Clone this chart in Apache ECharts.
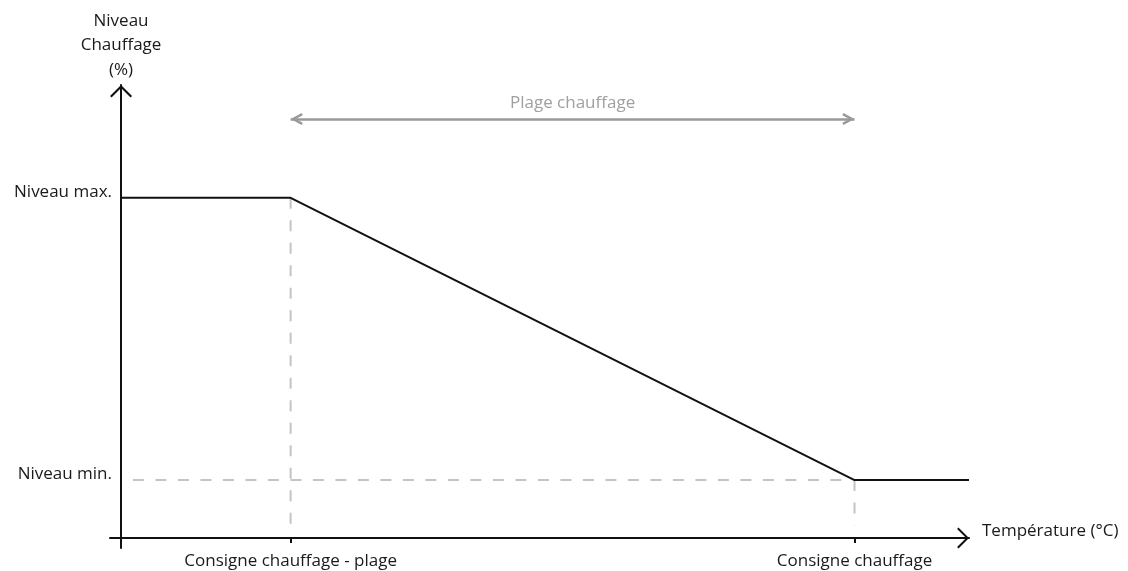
<!DOCTYPE html>
<html><head><meta charset="utf-8">
<script src="https://cdn.jsdelivr.net/npm/echarts@6/dist/echarts.min.js"></script>
<style>html,body{margin:0;padding:0;background:#fff}#c{width:1128px;height:571px}</style>
</head><body><div id="c"></div>
<script>
// categories / tick positions on the temperature axis
const xTicks = [20, 86.5];
const xTickLabels = ['Consigne chauffage - plage', 'Consigne chauffage'];
// heating levels
const yLevels = [12.8, 75.1];
const yLevelLabels = ['Niveau min.', 'Niveau max.'];
// heating curve
const curveX = [0, 20, 86.5, 100];
const curveY = [75.1, 75.1, 12.8, 12.8];
// heating range arrow
const rangeX = [20, 86.5];
const rangeY = 92.5;
const rangeLabel = 'Plage chauffage';
// dashed guide extents
const dashBottom = 2.8;
const dashLeft = 1.4;

const FONT = 'Open Sans';
const axisArrow = 'path://M0,0 L11,11 L9.5,12.5 L0,3 L-9.5,12.5 L-11,11 Z M-0.01,-12.5 L0.01,-12.5 L0,-12.49 Z';
const rangeArrow = 'path://M0,0 L6,11 L3.8,12.2 L0,5.2 L-3.8,12.2 L-6,11 Z M-0.01,-12.2 L0.01,-12.2 L0,-12.19 Z';

const curve = curveX.map((x, i) => [x, curveY[i]]);
const dashStyle = {color: '#c4c4c4', width: 2, type: [11, 11.5]};

const chart = echarts.init(document.getElementById('c'), null, {renderer: 'canvas'});
chart.setOption({
  animation: false,
  backgroundColor: '#ffffff',
  textStyle: {fontFamily: FONT},
  grid: {left: 110, right: 159, top: 85, bottom: 23, containLabel: false, outerBoundsMode: 'none'},
  xAxis: {
    type: 'value', min: -1.3, max: 100,
    splitLine: {show: false},
    axisLine: {onZero: true, lineStyle: {color: '#111', width: 2},
      symbol: ['none', axisArrow], symbolSize: [21, 26]},
    axisTick: {show: true, customValues: xTicks, length: 5, lineStyle: {color: '#111', width: 2}},
    axisLabel: {customValues: xTicks, formatter: v => xTickLabels[xTicks.indexOf(v)],
      fontSize: 17, margin: 5, color: '#1a1a1a', fontFamily: FONT},
    name: 'Température (°C)', nameLocation: 'end', nameGap: 13,
    nameTextStyle: {fontSize: 17, color: '#1a1a1a', verticalAlign: 'bottom', lineHeight: 14, fontFamily: FONT}
  },
  yAxis: {
    type: 'value', min: -2.2, max: 100,
    splitLine: {show: false},
    axisLine: {onZero: true, lineStyle: {color: '#111', width: 2},
      symbol: ['none', axisArrow], symbolSize: [22, 25]},
    axisTick: {show: false},
    axisLabel: {customValues: yLevels, formatter: v => yLevelLabels[yLevels.indexOf(v)],
      fontSize: 17, margin: -2, color: '#1a1a1a', verticalAlign: 'bottom', lineHeight: 11, fontFamily: FONT},
    name: 'Niveau\nChauffage\n(%)', nameLocation: 'end', nameGap: 3,
    nameTextStyle: {fontSize: 17, lineHeight: 24.5, color: '#1a1a1a', align: 'center', fontFamily: FONT}
  },
  series: [
    {type: 'line', silent: true, showSymbol: false, z: 1, lineStyle: dashStyle,
     data: [[xTicks[0], yLevels[1]], [xTicks[0], dashBottom]]},
    {type: 'line', silent: true, showSymbol: false, z: 1, lineStyle: dashStyle,
     data: [[xTicks[1], yLevels[0]], [xTicks[1], dashBottom]]},
    {type: 'line', silent: true, showSymbol: false, z: 1, lineStyle: dashStyle,
     data: [[dashLeft, yLevels[0]], [xTicks[1], yLevels[0]]]},
    {type: 'line', silent: true, showSymbol: false, z: 3,
     lineStyle: {color: '#111', width: 2},
     data: curve,
     markLine: {
       silent: true, animation: false,
       symbol: [rangeArrow, rangeArrow], symbolSize: [12, 24.4],
       lineStyle: {color: '#9a9a9a', width: 2.5, type: 'solid'},
       label: {show: true, position: 'middle', distance: 7, formatter: rangeLabel,
         color: '#a0a0a0', fontSize: 17, fontFamily: FONT},
       emphasis: {disabled: true},
       data: [[{coord: [rangeX[0], rangeY]}, {coord: [rangeX[1], rangeY]}]]
     }}
  ]
});
</script>
</body></html>
